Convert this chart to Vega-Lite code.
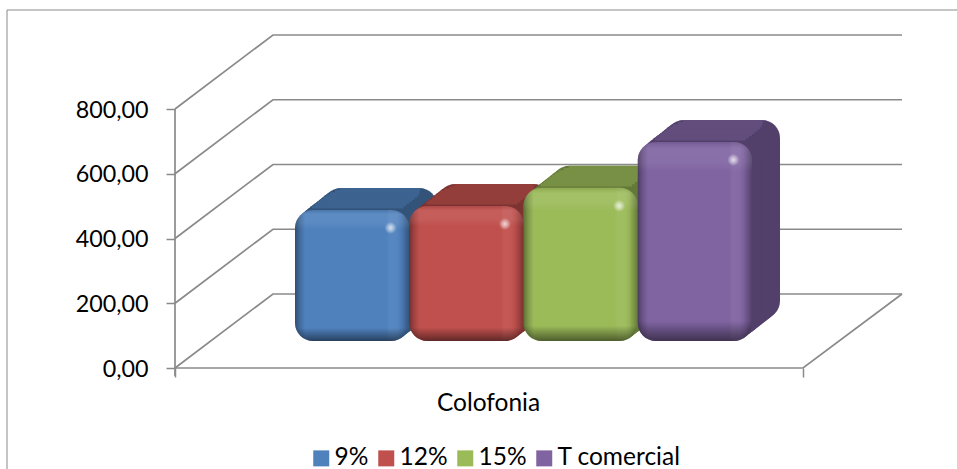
{
"$schema":"https://vega.github.io/schema/vega-lite/v6.json",
"width":950,"height":459,
"autosize":{"type":"none"},
"padding":{"left":7,"top":10,"right":0,"bottom":0},
"background":"white",
"config":{"view":{"stroke":null},"font":"Lato"},
"datasets":{
 "rejilla":[
  {"linea":"0a","x":0,"y":0},{"linea":"0a","x":15.6,"y":228.6},{"linea":"0a","x":115.76,"y":228.6},
  {"linea":"0b","x":0,"y":0},{"linea":"0b","x":100,"y":0},{"linea":"0b","x":115.76,"y":228.6},
  {"linea":"200","x":0,"y":200},{"linea":"200","x":15.6,"y":428.6},{"linea":"200","x":115.76,"y":428.6},
  {"linea":"400","x":0,"y":400},{"linea":"400","x":15.6,"y":628.6},{"linea":"400","x":115.76,"y":628.6},
  {"linea":"600","x":0,"y":600},{"linea":"600","x":15.6,"y":828.6},{"linea":"600","x":115.76,"y":828.6},
  {"linea":"800","x":0,"y":800},{"linea":"800","x":15.6,"y":1028.6},{"linea":"800","x":115.76,"y":1028.6},
  {"linea":"eje","x":0,"y":-25},{"linea":"eje","x":0,"y":800}
 ],
 "marco":[{"x":-26.75,"y":-311.97},{"x":-26.75,"y":1105.8},{"x":124.52,"y":1105.8}],
 "barras":[
  {"serie":"9%","valor":405},
  {"serie":"12%","valor":417},
  {"serie":"15%","valor":473},
  {"serie":"T comercial","valor":615}
 ]
},
"data":{"name":"barras"},
"encoding":{
  "x":{"field":"serie","type":"nominal","sort":null,"axis":null,"scale":{"domain":["9%","12%","15%","T comercial"],"range":[288,745],"paddingInner":0,"paddingOuter":0}},
  "y":{"field":"valor","type":"quantitative","axis":null,"scale":{"domain":[-311.97,1105.8],"nice":false,"zero":false}}
},
"layer":[
  {"data":{"name":"rejilla"},"mark":{"type":"line","stroke":"#8a8a8a","strokeWidth":1.7,"strokeJoin":"miter"},
   "encoding":{
    "x":{"field":"x","type":"quantitative","scale":{"domain":[-26.75,124.52],"nice":false,"zero":false},
     "axis":{"orient":"bottom","offset":-101,"values":[0,100],"labels":false,"grid":false,"domain":false,"ticks":true,"tickSize":9,"tickColor":"#8a8a8a","tickWidth":1.5,
      "title":"Colofonia","titleFontSize":24.5,"titleFont":"Lato","titleFontWeight":"normal","titleColor":"#000000","titleX":481,"titleY":42,"titleBaseline":"alphabetic","titleAnchor":"middle","titleAlign":"center"}},
    "y":{"field":"y","type":"quantitative","scale":{"domain":[-311.97,1105.8],"nice":false,"zero":false},
     "axis":{"orient":"left","offset":-168,"values":[0,200,400,600,800],"grid":false,"domain":false,"tickSize":9,"tickColor":"#8a8a8a","tickWidth":1.5,"title":null,
      "labelFontSize":23.3,"labelFont":"Lato","labelColor":"#000000","labelPadding":18,"labelOffset":1,"labelExpr":"replace(format(datum.value,'.2f'),'.',',')"}},
    "detail":{"field":"linea"}
   }},
  {"data":{"name":"marco"},"mark":{"type":"line","stroke":"#8a8a8a","strokeWidth":1,"strokeJoin":"miter"},
   "encoding":{
    "x":{"field":"x","type":"quantitative","axis":null,"scale":{"domain":[-26.75,124.52],"nice":false,"zero":false}},
    "y":{"field":"y","type":"quantitative","axis":null,"scale":{"domain":[-311.97,1105.8],"nice":false,"zero":false}}
   }},
  {"mark":{"type":"rect","cornerRadius":18,"xOffset":28,"yOffset":-49,"y2Offset":-49},"encoding":{"y2":{"datum":0},"fill":{"field":"serie","legend":null,"sort":null,"scale":{"domain":["9%","12%","15%","T comercial"],"range":["#335379","#7c3331","#647939","#52406a"]}}}},
  {"mark":{"type":"rect","cornerRadius":18,"xOffset":25.2,"yOffset":-46.8,"y2Offset":-46.8},"encoding":{"y2":{"datum":0},"fill":{"field":"serie","legend":null,"sort":null}}},
  {"mark":{"type":"rect","cornerRadius":18,"xOffset":22.4,"yOffset":-44.6,"y2Offset":-44.6},"encoding":{"y2":{"datum":0},"fill":{"field":"serie","legend":null,"sort":null}}},
  {"mark":{"type":"rect","cornerRadius":18,"xOffset":19.6,"yOffset":-42.4,"y2Offset":-42.4},"encoding":{"y2":{"datum":0},"fill":{"field":"serie","legend":null,"sort":null}}},
  {"mark":{"type":"rect","cornerRadius":18,"xOffset":16.8,"yOffset":-40.2,"y2Offset":-40.2},"encoding":{"y2":{"datum":0},"fill":{"field":"serie","legend":null,"sort":null}}},
  {"mark":{"type":"rect","cornerRadius":18,"xOffset":14,"yOffset":-38,"y2Offset":-38},"encoding":{"y2":{"datum":0},"fill":{"field":"serie","legend":null,"sort":null}}},
  {"mark":{"type":"rect","cornerRadius":18,"xOffset":11.2,"yOffset":-35.8,"y2Offset":-35.8},"encoding":{"y2":{"datum":0},"fill":{"field":"serie","legend":null,"sort":null}}},
  {"mark":{"type":"rect","cornerRadius":18,"xOffset":8.4,"yOffset":-33.6,"y2Offset":-33.6},"encoding":{"y2":{"datum":0},"fill":{"field":"serie","legend":null,"sort":null}}},
  {"mark":{"type":"rect","cornerRadius":18,"xOffset":5.6,"yOffset":-31.4,"y2Offset":-31.4},"encoding":{"y2":{"datum":0},"fill":{"field":"serie","legend":null,"sort":null}}},
  {"mark":{"type":"rect","cornerRadius":18,"xOffset":2.8,"yOffset":-29.2,"y2Offset":-29.2},"encoding":{"y2":{"datum":0},"fill":{"field":"serie","legend":null,"sort":null}}},
  {"mark":{"type":"rect","fillOpacity":0,"strokeWidth":3,"width":{"band":0.7},"xOffset":28,"yOffset":-47.5,"y2Offset":-47.5},"encoding":{"y2":{"field":"valor"},"stroke":{"field":"serie","legend":null,"sort":null,"scale":{"domain":["9%","12%","15%","T comercial"],"range":["#3d6391","#943e3b","#779045","#624d7d"]}}}},
  {"mark":{"type":"rect","fillOpacity":0,"strokeWidth":3,"width":{"band":0.74},"xOffset":25.2,"yOffset":-45.3,"y2Offset":-45.3},"encoding":{"y2":{"field":"valor"},"stroke":{"field":"serie","legend":null,"sort":null}}},
  {"mark":{"type":"rect","fillOpacity":0,"strokeWidth":3,"width":{"band":0.78},"xOffset":22.4,"yOffset":-43.1,"y2Offset":-43.1},"encoding":{"y2":{"field":"valor"},"stroke":{"field":"serie","legend":null,"sort":null}}},
  {"mark":{"type":"rect","fillOpacity":0,"strokeWidth":3,"width":{"band":0.8},"xOffset":19.6,"yOffset":-40.9,"y2Offset":-40.9},"encoding":{"y2":{"field":"valor"},"stroke":{"field":"serie","legend":null,"sort":null}}},
  {"mark":{"type":"rect","fillOpacity":0,"strokeWidth":3,"width":{"band":0.8},"xOffset":16.8,"yOffset":-38.7,"y2Offset":-38.7},"encoding":{"y2":{"field":"valor"},"stroke":{"field":"serie","legend":null,"sort":null}}},
  {"mark":{"type":"rect","fillOpacity":0,"strokeWidth":3,"width":{"band":0.8},"xOffset":14,"yOffset":-36.5,"y2Offset":-36.5},"encoding":{"y2":{"field":"valor"},"stroke":{"field":"serie","legend":null,"sort":null}}},
  {"mark":{"type":"rect","fillOpacity":0,"strokeWidth":3,"width":{"band":0.8},"xOffset":11.2,"yOffset":-34.3,"y2Offset":-34.3},"encoding":{"y2":{"field":"valor"},"stroke":{"field":"serie","legend":null,"sort":null}}},
  {"mark":{"type":"rect","fillOpacity":0,"strokeWidth":3,"width":{"band":0.8},"xOffset":8.4,"yOffset":-32.1,"y2Offset":-32.1},"encoding":{"y2":{"field":"valor"},"stroke":{"field":"serie","legend":null,"sort":null}}},
  {"mark":{"type":"rect","fillOpacity":0,"strokeWidth":3,"width":{"band":0.8},"xOffset":5.6,"yOffset":-29.9,"y2Offset":-29.9},"encoding":{"y2":{"field":"valor"},"stroke":{"field":"serie","legend":null,"sort":null}}},
  {"mark":{"type":"rect","cornerRadius":18,"yOffset":-27,"y2Offset":-27},
   "encoding":{"y2":{"datum":0},"color":{"field":"serie","type":"nominal","sort":null,"scale":{"domain":["9%","12%","15%","T comercial"],"range":["#4f81bd","#c0504d","#9bbb59","#8064a2"]},
    "legend":{"orient":"none","legendX":302,"legendY":436,"direction":"horizontal","columns":4,"title":null,"symbolType":"square","symbolSize":256,"symbolStrokeWidth":0,"symbolOpacity":1,"labelFontSize":24.5,"labelFont":"Lato","labelColor":"#000000","labelOffset":1,"columnPadding":5,"padding":0}}}},
  {"mark":{"type":"rect","cornerRadius":18,"yOffset":-27,"y2Offset":-27,
    "fill":{"gradient":"linear","x1":0,"y1":0,"x2":1,"y2":0,"stops":[
     {"offset":0,"color":"rgba(0,0,0,0.4)"},{"offset":0.04,"color":"rgba(0,0,0,0.18)"},{"offset":0.09,"color":"rgba(0,0,0,0)"},
     {"offset":0.8,"color":"rgba(255,255,255,0)"},{"offset":0.83,"color":"rgba(255,255,255,0.05)"},{"offset":0.89,"color":"rgba(255,255,255,0.04)"},
     {"offset":0.93,"color":"rgba(0,0,0,0.05)"},{"offset":1,"color":"rgba(0,0,0,0.35)"}]}},
   "encoding":{"y2":{"datum":0}}},
  {"mark":{"type":"rect","cornerRadius":18,"yOffset":-27,"y2Offset":-27,
    "fill":{"gradient":"linear","x1":0,"y1":0,"x2":0,"y2":1,"stops":[
     {"offset":0,"color":"rgba(0,0,0,0.1)"},{"offset":0.035,"color":"rgba(255,255,255,0.08)"},{"offset":0.1,"color":"rgba(255,255,255,0.07)"},
     {"offset":0.15,"color":"rgba(255,255,255,0)"},{"offset":0.9,"color":"rgba(0,0,0,0)"},{"offset":1,"color":"rgba(0,0,0,0.5)"}]}},
   "encoding":{"y2":{"datum":0}}},
  {"mark":{"type":"point","shape":"circle","size":150,"xOffset":38.5,"yOffset":-9,"strokeWidth":0,"filled":true,"opacity":1,
    "fill":{"gradient":"radial","stops":[{"offset":0,"color":"rgba(255,255,255,0.75)"},{"offset":0.4,"color":"rgba(255,255,255,0.5)"},{"offset":1,"color":"rgba(255,255,255,0)"}]}}}
],
"resolve":{"scale":{"x":"independent"},"axis":{"y":"independent"},"legend":{"color":"independent"}}
}
